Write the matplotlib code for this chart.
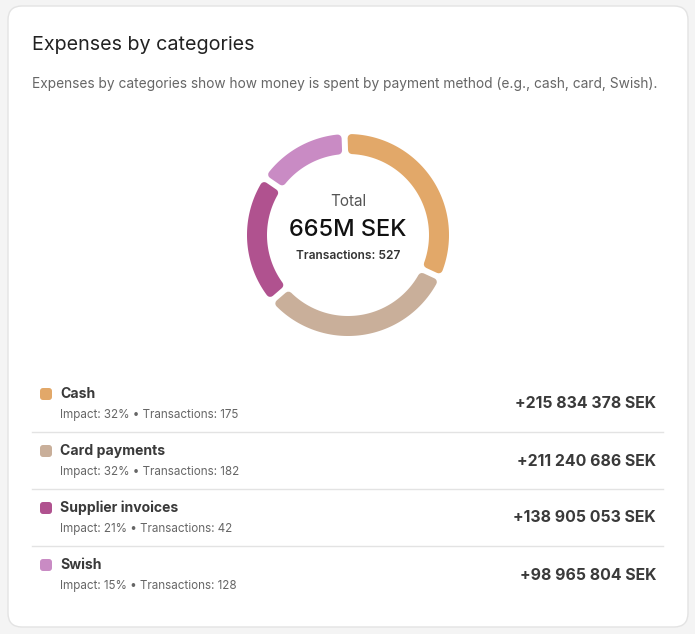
import numpy as np
import matplotlib.pyplot as plt
from matplotlib.patches import FancyBboxPatch, Polygon

plt.rcParams['font.family'] = ['Inter', 'DejaVu Sans']

categories = ["Cash", "Card payments", "Supplier invoices", "Swish"]
amounts = [215834378, 211240686, 138905053, 98965804]
impact = [32, 32, 21, 15]
transactions = [175, 182, 42, 128]
colors = ["#E2A869", "#C9AF9A", "#B0528F", "#C98BC4"]
total_label = "665M SEK"
total_tx = 527

W, H = 695, 634
fig = plt.figure(figsize=(W / 100, H / 100), dpi=100, facecolor="#f4f4f4")
ax = fig.add_axes([0, 0, 1, 1])
ax.set_xlim(0, W)
ax.set_ylim(H, 0)
ax.axis("off")

px = 72 / 100  # points per pixel

# card
ax.add_patch(FancyBboxPatch((8, 6), 680, 621, boxstyle="round,pad=0,rounding_size=14",
                            fc="white", ec="#e3e3e3", lw=1))

ax.text(32, 45, "Expenses by categories", fontsize=14.2, color="#222222", va="center")
ax.text(32, 84, "Expenses by categories show how money is spent by payment method (e.g., cash, card, Swish).",
        fontsize=9.9, color="#666666", va="center")

# donut
cx, cy = 348, 235
r_out, r_in = 101, 81
rc = 4      # corner radius
gap = 6     # visible gap in px
start = 92.0
fr = np.array(amounts) / sum(amounts)
a = start
for f, c in zip(fr, colors):
    a0 = np.radians(a)
    a1 = np.radians(a - f * 360)
    d = gap / 2 + rc
    ro, ri = r_out - rc, r_in + rc
    t_o = np.linspace(a0 - np.arcsin(d / ro), a1 + np.arcsin(d / ro), 80)
    t_i = np.linspace(a1 + np.arcsin(d / ri), a0 - np.arcsin(d / ri), 80)
    xs = np.concatenate([cx + ro * np.cos(t_o), cx + ri * np.cos(t_i)])
    ys = np.concatenate([cy - ro * np.sin(t_o), cy - ri * np.sin(t_i)])
    ax.add_patch(Polygon(np.column_stack([xs, ys]), closed=True, fc=c, ec=c,
                         lw=2 * rc * px, joinstyle="round"))
    a -= f * 360

ax.text(cx, 201, "Total", fontsize=11, color="#555555", ha="center", va="center")
ax.text(cx, 230, total_label, fontsize=17, color="#111111", fontweight="medium",
        ha="center", va="center")
ax.text(cx, 256, f"Transactions: {total_tx}", fontsize=8.6, color="#333333",
        fontweight="semibold", ha="center", va="center")

# rows
for i, (name, amt, imp, tx, c) in enumerate(zip(categories, amounts, impact, transactions, colors)):
    y = 394 + 57 * i
    ax.add_patch(FancyBboxPatch((40, y - 6), 12, 12, boxstyle="round,pad=0,rounding_size=3",
                                fc=c, ec="none"))
    ax.text(60, y, name, fontsize=10.1, fontweight="bold", color="#3a3a3a", va="center")
    ax.text(60, y + 21, f"Impact: {imp}% \u2022 Transactions: {tx}", fontsize=8.4,
            color="#666666", va="center")
    amt_s = f"+{amt:,}".replace(",", " ") + " SEK"
    ax.text(656, y + 10, amt_s, fontsize=11.4, fontweight="bold", color="#3a3a3a",
            ha="right", va="center")
    if i < len(categories) - 1:
        ax.plot([32, 663], [y + 38, y + 38], color="#e3e3e3", lw=1)

fig.savefig("out.png", dpi=100, facecolor=fig.get_facecolor())
